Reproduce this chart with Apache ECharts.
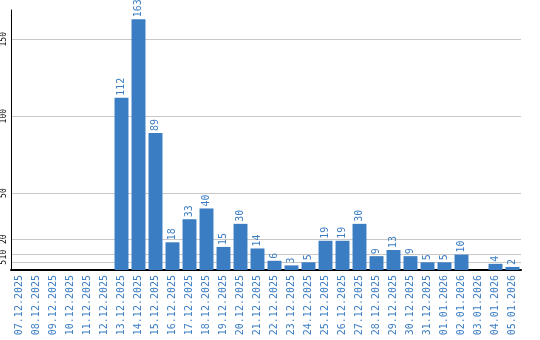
<!DOCTYPE html>
<html><head><meta charset="utf-8">
<script src="https://cdn.jsdelivr.net/npm/echarts@6/dist/echarts.min.js"></script>
<style>html,body{margin:0;padding:0;background:#fff}#c{width:540px;height:340px}</style>
</head><body><div id="c"></div>
<script>
const categories = ["07.12.2025","08.12.2025","09.12.2025","10.12.2025","11.12.2025","12.12.2025","13.12.2025","14.12.2025","15.12.2025","16.12.2025","17.12.2025","18.12.2025","19.12.2025","20.12.2025","21.12.2025","22.12.2025","23.12.2025","24.12.2025","25.12.2025","26.12.2025","27.12.2025","28.12.2025","29.12.2025","30.12.2025","31.12.2025","01.01.2026","02.01.2026","03.01.2026","04.01.2026","05.01.2026"];
const values = [0,0,0,0,0,0,112,163,89,18,33,40,15,30,14,6,3,5,19,19,30,9,13,9,5,5,10,0,4,2];
const yTicks = [5,10,20,50,100,150];

const font = "'DejaVu Sans Mono', 'Liberation Mono', monospace";
const blue = '#3b7dc3';
const chart = echarts.init(document.getElementById('c'));
chart.setOption({
  animation: false,
  grid: {left: 11, right: 19, top: 10, bottom: 70, containLabel: false},
  xAxis: {
    type: 'category', data: categories,
    axisLine: {lineStyle: {color: '#000', width: 2}},
    axisTick: {show: false},
    axisLabel: {rotate: 90, color: blue, fontFamily: font, fontSize: 10, margin: 5, interval: 0}
  },
  yAxis: {
    type: 'value', min: 0, max: 169,
    axisLine: {show: true, lineStyle: {color: '#000', width: 1}},
    axisTick: {show: false},
    splitLine: {show: false},
    axisLabel: {customValues: yTicks, rotate: 90, color: '#000', fontFamily: font, fontSize: 8, margin: 3, hideOverlap: false}
  },
  series: [{
    type: 'bar', data: values, barCategoryGap: '18%',
    itemStyle: {color: blue},
    label: {show: true, position: 'top', rotate: 90, align: 'left', verticalAlign: 'middle', distance: 2,
      color: blue, fontFamily: font, fontSize: 10,
      formatter: p => p.value ? String(p.value) : ''},
    markLine: {silent: true, symbol: 'none', label: {show: false}, z: 0,
      lineStyle: {color: '#c8c8c8', type: 'solid', width: 1},
      data: yTicks.map(v => ({yAxis: v}))}
  }]
});
</script></body></html>
